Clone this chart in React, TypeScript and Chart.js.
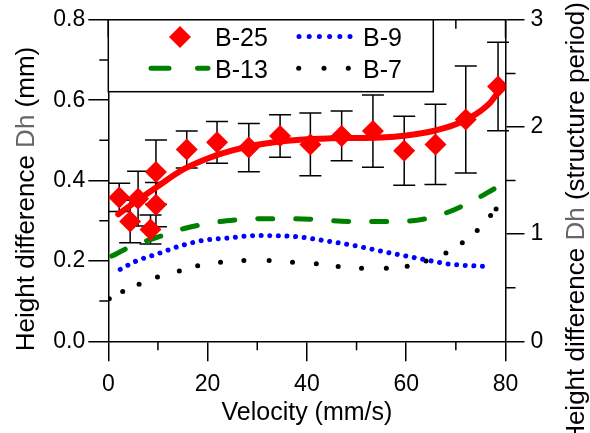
import React, { useEffect, useRef } from 'react';
import { Chart, registerables } from 'chart.js';

Chart.register(...registerables);

// ---- data ----
const b25X = [2.2, 4.4, 6.0, 8.5, 9.6, 9.6, 15.8, 21.9, 28.3, 34.6, 40.7, 47.0, 53.3, 59.6, 65.9, 72.0, 78.5];
const b25Y = [0.358, 0.298, 0.355, 0.278, 0.421, 0.340, 0.477, 0.495, 0.482, 0.511, 0.490, 0.511, 0.523, 0.474, 0.490, 0.552, 0.634];
const b25Err = [0.035, 0.053, 0.068, 0.036, 0.080, 0.055, 0.046, 0.052, 0.060, 0.053, 0.078, 0.062, 0.090, 0.086, 0.100, 0.133, 0.110];

const fitX = [2, 5, 10, 15, 20, 25, 30, 35, 40, 45, 50, 55, 60, 65, 70, 74, 77, 78.5];
const fitY = [0.316, 0.343, 0.386, 0.427, 0.455, 0.475, 0.489, 0.498, 0.503, 0.505, 0.506, 0.507, 0.512, 0.522, 0.540, 0.565, 0.595, 0.62];

const b13X = [0.7, 4.4, 8.4, 10.4, 15.1, 23.8, 31.9, 40.6, 49.3, 58.0, 65.7, 72.4, 78.1];
const b13Y = [0.212, 0.235, 0.253, 0.261, 0.280, 0.300, 0.305, 0.304, 0.298, 0.298, 0.310, 0.343, 0.382];

const b9X = [2.4, 5.7, 10.0, 14.4, 19.1, 24.1, 29.9, 37.2, 43.3, 50.0, 56.7, 63.4, 68.8, 76.8];
const b9Y = [0.179, 0.200, 0.218, 0.237, 0.251, 0.257, 0.263, 0.261, 0.251, 0.237, 0.220, 0.204, 0.192, 0.186];

const b7X = [0.2, 2.9, 6.2, 9.9, 14.3, 18.0, 22.6, 27.3, 32.4, 37.1, 41.9, 46.3, 51.0, 56.0, 60.2, 64.0, 68.0, 71.3, 74.3, 77.0, 78.1];
const b7Y = [0.106, 0.124, 0.142, 0.160, 0.175, 0.188, 0.197, 0.201, 0.201, 0.197, 0.193, 0.186, 0.182, 0.182, 0.187, 0.200, 0.220, 0.245, 0.276, 0.313, 0.329];

const xTicks = [0, 20, 40, 60, 80];
const xMinor = [10, 30, 50, 70];
const yTicks = [0, 0.2, 0.4, 0.6, 0.8];
const yMinor = [0.1, 0.3, 0.5, 0.7];
const y2Ticks = [0, 1, 2, 3];
const y2Minor = [0.5, 1.5, 2.5];

const seriesNames = ['B-25', 'B-9', 'B-13', 'B-7'];
const xTitle = 'Velocity (mm/s)';
const yTitleParts = ['Height difference ', 'Dh', ' (mm)'];
const y2TitleParts = ['Height difference ', 'Dh', ' (structure period)'];

const FONT = "'Liberation Sans', Arial, Helvetica, sans-serif";
const RED = '#ff0000';
const GREEN = '#008000';
const BLUE = '#0000ff';

const pts = (xs: number[], ys: number[]) => xs.map((x, i) => ({ x, y: ys[i] }));

function drawRotatedParts(ctx: CanvasRenderingContext2D, parts: string[], cx: number, cy: number, font: string) {
  ctx.save();
  ctx.font = font;
  const widths = parts.map((p) => ctx.measureText(p).width);
  const total = widths.reduce((a, b) => a + b, 0);
  ctx.translate(cx, cy);
  ctx.rotate(-Math.PI / 2);
  ctx.textBaseline = 'alphabetic';
  ctx.textAlign = 'left';
  let x = -total / 2;
  parts.forEach((p, i) => {
    ctx.fillStyle = i === 1 ? '#666666' : '#000000';
    ctx.fillText(p, x, 0);
    x += widths[i];
  });
  ctx.restore();
}

const decorPlugin = {
  id: 'decor',
  beforeDatasetsDraw(chart: any) {
    const { ctx } = chart;
    const xs = chart.scales.x;
    const ys = chart.scales.y;
    ctx.save();
    ctx.strokeStyle = '#000';
    ctx.lineWidth = 1.5;
    b25X.forEach((xv, i) => {
      const px = xs.getPixelForValue(xv);
      const top = ys.getPixelForValue(b25Y[i] + b25Err[i]);
      const bot = ys.getPixelForValue(b25Y[i] - b25Err[i]);
      ctx.beginPath();
      ctx.moveTo(px, top);
      ctx.lineTo(px, bot);
      ctx.moveTo(px - 11, top);
      ctx.lineTo(px + 11, top);
      ctx.moveTo(px - 11, bot);
      ctx.lineTo(px + 11, bot);
      ctx.stroke();
    });
    ctx.restore();
  },
  afterDraw(chart: any) {
    const { ctx, chartArea } = chart;
    const xs = chart.scales.x;
    const ys = chart.scales.y;
    const y2 = chart.scales.y1;
    ctx.save();
    ctx.strokeStyle = '#000';
    ctx.lineWidth = 1.5;
    ctx.beginPath();
    // top frame
    ctx.moveTo(chartArea.left, chartArea.top);
    ctx.lineTo(chartArea.right, chartArea.top);
    // minor ticks
    yMinor.forEach((v) => {
      const py = ys.getPixelForValue(v);
      ctx.moveTo(chartArea.left, py);
      ctx.lineTo(chartArea.left - 9, py);
    });
    xMinor.forEach((v) => {
      const px = xs.getPixelForValue(v);
      ctx.moveTo(px, chartArea.bottom);
      ctx.lineTo(px, chartArea.bottom + 9);
      ctx.moveTo(px, chartArea.top);
      ctx.lineTo(px, chartArea.top + 9);
    });
    xTicks.forEach((v) => {
      const px = xs.getPixelForValue(v);
      ctx.moveTo(px, chartArea.top);
      ctx.lineTo(px, chartArea.top + 18);
    });
    y2Minor.forEach((v) => {
      const py = y2.getPixelForValue(v);
      ctx.moveTo(chartArea.right, py);
      ctx.lineTo(chartArea.right + 10, py);
    });
    ctx.stroke();

    // legend box
    const lx0 = chartArea.left;
    const ly0 = chartArea.top;
    const lx1 = 433.3;
    const ly1 = 91.7;
    ctx.fillStyle = '#fff';
    ctx.fillRect(lx0, ly0, lx1 - lx0, ly1 - ly0);
    ctx.strokeRect(lx0, ly0, lx1 - lx0, ly1 - ly0);

    const r1 = 37;
    const r2 = 68.3;
    // diamond
    ctx.fillStyle = RED;
    ctx.beginPath();
    ctx.moveTo(180 - 11, r1);
    ctx.lineTo(180, r1 - 11);
    ctx.lineTo(180 + 11, r1);
    ctx.lineTo(180, r1 + 11);
    ctx.closePath();
    ctx.fill();
    // blue dots
    ctx.fillStyle = BLUE;
    for (let i = 0; i < 6; i++) {
      ctx.beginPath();
      ctx.arc(299 + i * 10.2, r1 - 0.5, 2.5, 0, Math.PI * 2);
      ctx.fill();
    }
    // green dashes
    ctx.strokeStyle = GREEN;
    ctx.lineWidth = 5;
    ctx.lineCap = 'round';
    ctx.beginPath();
    ctx.moveTo(151, r2);
    ctx.lineTo(169, r2);
    ctx.moveTo(197.5, r2);
    ctx.lineTo(208, r2);
    ctx.stroke();
    // black dots
    ctx.fillStyle = '#000';
    [298.7, 324, 348.3].forEach((px) => {
      ctx.beginPath();
      ctx.arc(px, r2, 2.5, 0, Math.PI * 2);
      ctx.fill();
    });
    // legend text
    ctx.fillStyle = '#000';
    ctx.font = `25px ${FONT}`;
    ctx.textBaseline = 'alphabetic';
    ctx.textAlign = 'left';
    ctx.fillText(seriesNames[0], 215, 46);
    ctx.fillText(seriesNames[1], 363, 46);
    ctx.fillText(seriesNames[2], 215, 78.3);
    ctx.fillText(seriesNames[3], 363, 78.3);

    // x title
    ctx.textAlign = 'center';
    ctx.font = `25px ${FONT}`;
    ctx.fillText(xTitle, (chartArea.left + chartArea.right) / 2, 420);
    ctx.restore();

    drawRotatedParts(ctx, yTitleParts, 33.5, 199, `26px ${FONT}`);
    drawRotatedParts(ctx, y2TitleParts, 584, 223, `26px ${FONT}`);
  },
};

export default function App() {
  const ref = useRef<HTMLCanvasElement | null>(null);
  useEffect(() => {
    document.body.style.margin = '0';
    const canvas = ref.current;
    if (!canvas) return;
    const tickFont = { family: FONT, size: 23 };
    const chart = new Chart(canvas, {
      type: 'scatter',
      data: {
        datasets: [
          {
            label: seriesNames[0],
            data: pts(b25X, b25Y),
            pointStyle: 'rectRot',
            pointRadius: 11,
            backgroundColor: RED,
            borderWidth: 0,
            showLine: false,
          },
          {
            label: 'fit',
            data: pts(fitX, fitY),
            showLine: true,
            borderColor: RED,
            borderWidth: 6,
            pointRadius: 0,
            cubicInterpolationMode: 'monotone',
            borderCapStyle: 'round',
          },
          {
            label: seriesNames[2],
            data: pts(b13X, b13Y),
            showLine: true,
            borderColor: GREEN,
            borderWidth: 5,
            borderDash: [15, 23],
            borderCapStyle: 'round',
            pointRadius: 0,
            cubicInterpolationMode: 'monotone',
          },
          {
            label: seriesNames[1],
            data: pts(b9X, b9Y),
            showLine: true,
            borderColor: BLUE,
            borderWidth: 5,
            borderDash: [0.01, 8.6],
            borderCapStyle: 'round',
            pointRadius: 0,
            cubicInterpolationMode: 'monotone',
          },
          {
            label: seriesNames[3],
            data: pts(b7X, b7Y),
            showLine: false,
            pointRadius: 2.5,
            pointStyle: 'circle',
            backgroundColor: '#000',
            borderWidth: 0,
          },
        ],
      } as any,
      options: {
        animation: false,
        responsive: false,
        maintainAspectRatio: false,
        layout: { padding: { left: 0, right: 0, top: 15.7, bottom: 0 } },
        plugins: { legend: { display: false }, tooltip: { enabled: false } },
        scales: {
          x: {
            type: 'linear',
            min: 0,
            max: 80,
            position: 'bottom',
            afterBuildTicks: (s: any) => {
              s.ticks = xTicks.map((v) => ({ value: v }));
            },
            ticks: { font: tickFont, color: '#000', padding: 10, maxRotation: 0, callback: (v: any) => String(v) },
            grid: { drawOnChartArea: false, drawTicks: true, tickLength: 20, color: '#000', lineWidth: 1.5 },
            border: { color: '#000', width: 1.5 },
            afterFit: (s: any) => {
              s.height = 91.7;
            },
          },
          y: {
            type: 'linear',
            min: 0,
            max: 0.8,
            position: 'left',
            afterBuildTicks: (s: any) => {
              s.ticks = yTicks.map((v) => ({ value: v }));
            },
            ticks: { font: tickFont, color: '#000', padding: 3, callback: (v: any) => Number(v).toFixed(1) },
            grid: { drawOnChartArea: false, drawTicks: true, tickLength: 20, color: '#000', lineWidth: 1.5 },
            border: { color: '#000', width: 1.5 },
            afterFit: (s: any) => {
              s.width = 108.3;
            },
          },
          y1: {
            type: 'linear',
            min: 0,
            max: 3,
            position: 'right',
            afterBuildTicks: (s: any) => {
              s.ticks = y2Ticks.map((v) => ({ value: v }));
            },
            ticks: { font: tickFont, color: '#000', padding: 6, callback: (v: any) => String(v) },
            grid: { drawOnChartArea: false, drawTicks: true, tickLength: 19, color: '#000', lineWidth: 1.5 },
            border: { color: '#000', width: 1.5 },
            afterFit: (s: any) => {
              s.width = 84.5;
            },
          },
        },
      } as any,
      plugins: [decorPlugin],
    });
    return () => chart.destroy();
  }, []);
  return (
    <div style={{ width: 590, height: 433 }}>
      <canvas ref={ref} width={590} height={433} style={{ display: 'block' }} />
    </div>
  );
}
